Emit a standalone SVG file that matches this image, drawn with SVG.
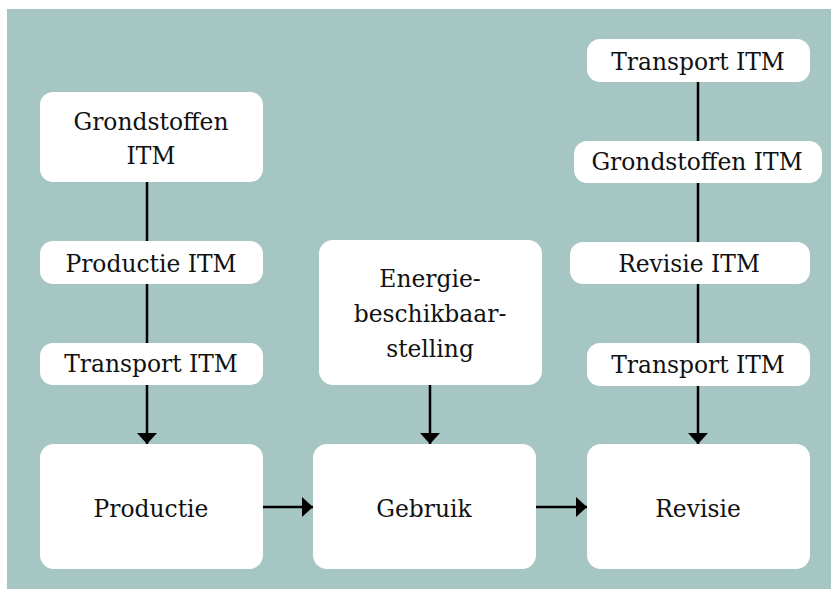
<svg xmlns="http://www.w3.org/2000/svg" width="831" height="591" viewBox="0 0 831 591">
<style>
.box{fill:#ffffff}
.t{font-family:"DejaVu Serif","Liberation Serif",serif;font-size:23.4px;fill:#111111;text-anchor:middle}
.c{stroke:#000000;stroke-width:2.5;fill:none}
</style>
<defs>
<marker id="ah" viewBox="0 0 11 20" refX="11" refY="10" markerWidth="11" markerHeight="20" markerUnits="userSpaceOnUse" orient="auto">
<path d="M0,0 L11,10 L0,20 Z" fill="#000000"/>
</marker>
</defs>
<rect x="7" y="9" width="824" height="580" fill="#a5c6c2"/>
<g id="connectors">
<line class="c" x1="147" y1="182" x2="147" y2="444" marker-end="url(#ah)"/>
<line class="c" x1="430" y1="385" x2="430" y2="444" marker-end="url(#ah)"/>
<line class="c" x1="698" y1="82" x2="698" y2="444" marker-end="url(#ah)"/>
<line class="c" x1="263" y1="507" x2="313" y2="507" marker-end="url(#ah)"/>
<line class="c" x1="536" y1="507" x2="587" y2="507" marker-end="url(#ah)"/>
</g>
<g id="grondstoffen-left"><rect class="box" x="40" y="92" width="223" height="90" rx="13"/><text class="t" x="151" y="130">Grondstoffen</text><text class="t" x="151" y="164">ITM</text></g>
<g id="productie-itm"><rect class="box" x="40" y="241" width="223" height="43" rx="13"/><text class="t" x="151" y="272">Productie ITM</text></g>
<g id="transport-left"><rect class="box" x="40" y="343" width="223" height="42" rx="13"/><text class="t" x="151" y="372">Transport ITM</text></g>
<g id="productie"><rect class="box" x="40" y="444" width="223" height="125" rx="14"/><text class="t" x="151" y="517">Productie</text></g>
<g id="energie"><rect class="box" x="319" y="240" width="223" height="145" rx="14"/><text class="t" x="430" y="287">Energie-</text><text class="t" x="430" y="322">beschikbaar-</text><text class="t" x="430" y="357">stelling</text></g>
<g id="gebruik"><rect class="box" x="313" y="444" width="223" height="125" rx="14"/><text class="t" x="424" y="517">Gebruik</text></g>
<g id="revisie"><rect class="box" x="587" y="444" width="223" height="125" rx="14"/><text class="t" x="698" y="517">Revisie</text></g>
<g id="transport-top-right"><rect class="box" x="587" y="39" width="223" height="43" rx="13"/><text class="t" x="698" y="70">Transport ITM</text></g>
<g id="grondstoffen-right"><rect class="box" x="574" y="141" width="248" height="42" rx="13"/><text class="t" x="697" y="170">Grondstoffen ITM</text></g>
<g id="revisie-itm"><rect class="box" x="570" y="242" width="240" height="42" rx="13"/><text class="t" x="689" y="272">Revisie ITM</text></g>
<g id="transport-bottom-right"><rect class="box" x="587" y="343" width="223" height="43" rx="13"/><text class="t" x="698" y="373">Transport ITM</text></g>
</svg>
